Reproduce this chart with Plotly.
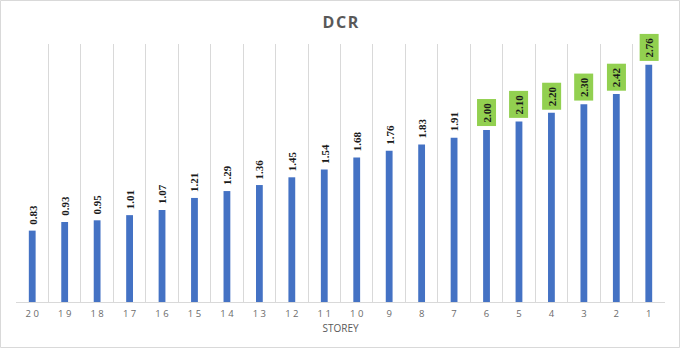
import plotly.graph_objects as go

# Storey numbers (left to right) and demand/capacity ratios
storeys = ["20", "19", "18", "17", "16", "15", "14", "13", "12", "11",
           "10", "9", "8", "7", "6", "5", "4", "3", "2", "1"]
dcr = [0.83, 0.93, 0.95, 1.01, 1.07, 1.21, 1.29, 1.36, 1.45, 1.54,
       1.68, 1.76, 1.83, 1.91, 2.00, 2.10, 2.20, 2.30, 2.42, 2.76]
# Storeys whose labels are highlighted
highlighted = ["6", "5", "4", "3", "2", "1"]

W, H = 681, 349
ML, MR, MT, MB = 16, 16, 44, 47

fig = go.Figure(go.Bar(
    x=storeys, y=dcr,
    marker=dict(color="#4472c4", line=dict(width=0)),
    width=0.21,
    hoverinfo="x+y",
))

# value labels, placed by category index on the category axis
for i, (s, v) in enumerate(zip(storeys, dcr)):
    hi = s in highlighted
    fig.add_annotation(
        x=i, y=v, text=f"{v:.2f}", showarrow=False,
        textangle=-90, xanchor="center", yanchor="bottom",
        yshift=3 if hi else 5,
        font=dict(family="Liberation Serif", size=11, color="#1a1a1a", weight="bold"),
        bgcolor="#92d050" if hi else None,
        borderpad=3 if hi else 0,
    )

# chart border
pw = W - ML - MR
ph = H - MT - MB
fig.add_shape(type="rect", xref="paper", yref="paper",
              x0=-(ML - 0.5) / pw, x1=1 + (MR - 1.5) / pw,
              y0=-(MB - 1.5) / ph, y1=1 + (MT - 0.5) / ph,
              line=dict(color="#d9d9d9", width=1), layer="below")

fig.update_layout(
    width=W, height=H,
    margin=dict(l=ML, r=MR, t=MT, b=MB),
    paper_bgcolor="white", plot_bgcolor="white",
    showlegend=False, bargap=0.79,
    title=dict(text="D\u200aC\u200aR", x=0.5, xanchor="center", y=1 - 22 / H, yanchor="middle",
               font=dict(family="Open Sans", size=16, color="#595959", weight="bold")),
    xaxis=dict(
        type="category", tickson="boundaries", ticks="",
        tickvals=storeys, ticktext=[" ".join(s) for s in storeys],
        tickfont=dict(family="Open Sans", size=9.5, color="#6b6b6b"),
        ticklabelstandoff=3,
        showgrid=True, gridcolor="#d9d9d9", gridwidth=1,
        showline=True, linecolor="#d9d9d9", linewidth=1,
        title=dict(text="STOREY", standoff=5,
                   font=dict(family="Open Sans", size=10, color="#595959")),
    ),
    yaxis=dict(range=[0, 3], visible=False, showgrid=False, zeroline=False),
)

fig.write_html("out.html")
